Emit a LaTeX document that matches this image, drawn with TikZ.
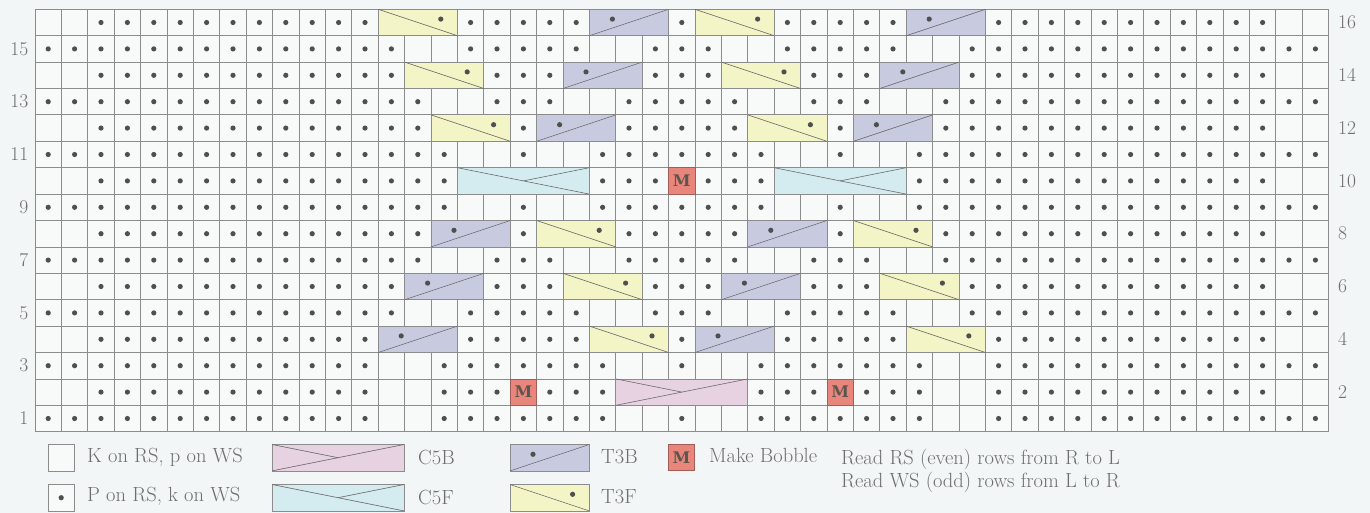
\documentclass[tikz,border=0pt]{standalone}
\usepackage{fontspec}
\newfontfamily\slab{DejaVu Serif}
\definecolor{bgc}{HTML}{F2F6F6}
\definecolor{cellc}{HTML}{F8FAFA}
\definecolor{gridc}{HTML}{8C8C8C}
\definecolor{yelc}{HTML}{F3F5C6}
\definecolor{bluc}{HTML}{C8CBDF}
\definecolor{cyac}{HTML}{D4EBEF}
\definecolor{pinc}{HTML}{E7D2E2}
\definecolor{mc}{HTML}{E8867B}
\definecolor{mtxt}{HTML}{5E5550}
\definecolor{dotcol}{HTML}{4F4F4F}
\definecolor{txtc}{HTML}{6E6E6E}
\definecolor{diagc}{HTML}{6A6A6A}
\tikzset{
  gridl/.style={draw=gridc,line width=0.8pt},
  boxl/.style={draw=gridc,line width=0.8pt},
  diag/.style={draw=diagc,line width=0.6pt},
  dotc/.style={fill=dotcol},
  lbl/.style={text=txtc,inner sep=0pt,font=\fontsize{20.5}{24}\selectfont},
  num/.style={text=txtc,inner sep=0pt,font=\fontsize{19.5}{22}\selectfont},
  mnode/.style={fill=mc,draw=mc!70!black,line width=0.6pt,minimum size=26.4pt,inner sep=0pt,text=mtxt,font=\slab\bfseries\fontsize{16}{18}\selectfont},
}
% base shapes at absolute top-left (x,y)
\newcommand\tfxy[2]{\begin{scope}[shift={({#1},{#2})}]
  \filldraw[fill=yelc,boxl] (0,0) rectangle (79.2,26.4);
  \draw[diag] (0,0) -- (79.2,26.4);
  \fill[dotc] (62.6,9.8) circle[radius=2.6pt];
\end{scope}}
\newcommand\tbxy[2]{\begin{scope}[shift={({#1},{#2})}]
  \filldraw[fill=bluc,boxl] (0,0) rectangle (79.2,26.4);
  \draw[diag] (0,26.4) -- (79.2,0);
  \fill[dotc] (23,9.8) circle[radius=2.6pt];
\end{scope}}
\newcommand\cbxy[2]{\begin{scope}[shift={({#1},{#2})}]
  \filldraw[fill=pinc,boxl] (0,0) rectangle (132,26.4);
  \draw[diag] (0,26.4) -- (132,0);
  \draw[diag] (0,0) -- (66,13.2);
\end{scope}}
\newcommand\cfxy[2]{\begin{scope}[shift={({#1},{#2})}]
  \filldraw[fill=cyac,boxl] (0,0) rectangle (132,26.4);
  \draw[diag] (0,0) -- (132,26.4);
  \draw[diag] (132,0) -- (66,13.2);
\end{scope}}
% chart versions: row, start column
\newcommand\tf[2]{\tfxy{35+26.4*(#2-1)}{9.3+26.4*(16-#1)}}
\newcommand\tb[2]{\tbxy{35+26.4*(#2-1)}{9.3+26.4*(16-#1)}}
\newcommand\cb[2]{\cbxy{35+26.4*(#2-1)}{9.3+26.4*(16-#1)}}
\newcommand\cf[2]{\cfxy{35+26.4*(#2-1)}{9.3+26.4*(16-#1)}}
\newcommand\dotrow[2]{\foreach \a/\b in {#2}{\foreach \c in {\a,...,\b}{\fill[dotc] ({35+26.4*(\c-0.5)},{9.3+26.4*(16.5-#1)}) circle[radius=2.6pt];}}}
\begin{document}
\begin{tikzpicture}[x=1pt,y=-1pt]
\useasboundingbox (0,0) rectangle (1370,513);
\fill[bgc] (0,0) rectangle (1370,513);
% cells
\fill[cellc] (35,9.3) rectangle (1328.6,431.7);
\foreach \i in {0,...,49} \draw[gridl] ({35+26.4*\i},9.3) -- ({35+26.4*\i},431.7);
\foreach \j in {0,...,16} \draw[gridl] (35,{9.3+26.4*\j}) -- (1328.6,{9.3+26.4*\j});
% purl dots
\dotrow{16}{3/13,17/21,25/25,29/33,37/47}
\dotrow{15}{1/14,17/21,24/26,29/33,36/49}
\dotrow{14}{3/14,18/20,24/26,30/32,36/47}
\dotrow{13}{1/15,18/20,23/27,30/32,35/49}
\dotrow{12}{3/15,19/19,23/27,31/31,35/47}
\dotrow{11}{1/16,19/19,22/28,31/31,34/49}
\dotrow{10}{3/16,22/24,26/28,34/47}
\dotrow{9}{1/16,19/19,22/28,31/31,34/49}
\dotrow{8}{3/15,19/19,23/27,31/31,35/47}
\dotrow{7}{1/15,18/20,23/27,30/32,35/49}
\dotrow{6}{3/14,18/20,24/26,30/32,36/47}
\dotrow{5}{1/14,17/21,24/26,29/33,36/49}
\dotrow{4}{3/13,17/21,25/25,29/33,37/47}
\dotrow{3}{1/13,16/22,25/25,28/34,37/49}
\dotrow{2}{3/13,16/18,20/22,28/30,32/34,37/47}
\dotrow{1}{1/13,16/22,25/25,28/34,37/49}
% cables
\tf{16}{14} \tb{16}{22} \tf{16}{26} \tb{16}{34}
\tf{14}{15} \tb{14}{21} \tf{14}{27} \tb{14}{33}
\tf{12}{16} \tb{12}{20} \tf{12}{28} \tb{12}{32}
\cf{10}{17} \cf{10}{29}
\tb{8}{16} \tf{8}{20} \tb{8}{28} \tf{8}{32}
\tb{6}{15} \tf{6}{21} \tb{6}{27} \tf{6}{33}
\tb{4}{14} \tf{4}{22} \tb{4}{26} \tf{4}{34}
\cb{2}{23}
% bobbles
\node[mnode] (m10) at ({35+26.4*24.5},{9.3+26.4*6.5}) {M};
\node[mnode] (m2a) at ({35+26.4*18.5},{9.3+26.4*14.5}) {M};
\node[mnode] (m2b) at ({35+26.4*30.5},{9.3+26.4*14.5}) {M};
% row numbers
\foreach \r in {1,3,...,15} \node[num,anchor=east] (l\r) at (28.5,{9.3+26.4*(16.5-\r)}) {\r};
\foreach \r in {2,4,...,16} \node[num,anchor=west] (r\r) at (1338,{9.3+26.4*(16.5-\r)}) {\r};
% legend
\filldraw[fill=cellc,boxl] (48,444.5) rectangle ++(26.4,26.4);
\filldraw[fill=cellc,boxl] (48,484.5) rectangle ++(26.4,26.4);
\fill[dotc] (61.2,497.7) circle[radius=2.6pt];
\node[lbl,anchor=west] (kleg) at (87,457) {K on RS, p on WS};
\node[lbl,anchor=west] (pleg) at (87,496) {P on RS, k on WS};
\cbxy{272}{444.5}
\cfxy{272}{484.5}
\node[lbl,anchor=west] (cbleg) at (418,457) {C5B};
\node[lbl,anchor=west] (cfleg) at (418,497) {C5F};
\tbxy{510}{444.5}
\tfxy{510}{484.5}
\node[lbl,anchor=west] (tbleg) at (601,457) {T3B};
\node[lbl,anchor=west] (tfleg) at (601,497) {T3F};
\node[mnode] (mleg) at (681.5,457.5) {M};
\node[lbl,anchor=west] (mbleg) at (709,455) {Make Bobble};
\node[lbl,anchor=west] (rs) at (841,459) {Read RS (even) rows from R to L};
\node[lbl,anchor=west] (ws) at (841,482) {Read WS (odd) rows from L to R};
\end{tikzpicture}
\end{document}
